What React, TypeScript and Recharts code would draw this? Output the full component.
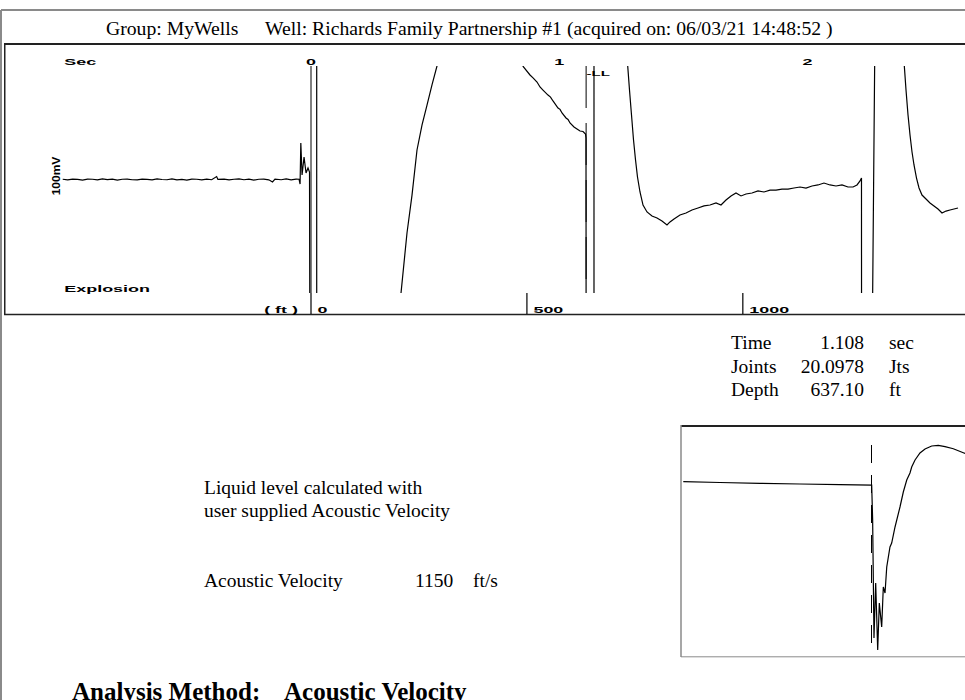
import React from 'react';
import { LineChart, Line, XAxis, YAxis, ReferenceLine } from 'recharts';

// ---------- values ----------
const ACOUSTIC_VELOCITY = 1150; // ft/s
const LIQUID_LEVEL_TIME = 1.108; // sec
const JOINTS = '20.0978';
const DEPTH = '637.10';

const timeTicks = [0, 1, 2];
const depthTicks = [0, 500, 1000];
const zeroMarkers = [0];

// time axis window (sec) and amplitude window (% of half scale)
const T_MIN = -1.2364;
const T_MAX = 2.799;
const AMP_DOMAIN: [number, number] = [-100, 100];

// [sec, amplitude]
const preShotSegment: [number, number][] = [
  [-1.0, 0.2], [-0.98, -0.3], [-0.96, 0.4], [-0.94, 0.1], [-0.92, -0.5], [-0.9, 0.3],
  [-0.88, 0.2], [-0.86, -0.4], [-0.84, 0.5], [-0.82, -0.1], [-0.8, 0.3], [-0.78, -0.6],
  [-0.76, 0.2], [-0.74, 0.4], [-0.72, -0.2], [-0.7, -0.4], [-0.68, 0.3], [-0.66, 0.1],
  [-0.64, -0.3], [-0.62, 0.5], [-0.6, 0.0], [-0.58, -0.2], [-0.56, 0.6], [-0.54, -0.3],
  [-0.52, 0.1], [-0.5, -0.5], [-0.48, 0.4], [-0.46, 0.2], [-0.44, -0.3], [-0.42, 0.3],
  [-0.4, -0.2], [-0.38, 2.6], [-0.375, 0.1], [-0.35, 0.4], [-0.33, -0.4], [-0.31, 0.2],
  [-0.29, 0.5], [-0.27, -0.2], [-0.25, 0.3], [-0.23, -0.5], [-0.21, 0.2], [-0.19, 0.4],
  [-0.17, -0.3], [-0.155, -2.2], [-0.145, 0.3], [-0.12, -0.2], [-0.1, 0.5], [-0.08, -0.4],
  [-0.06, 0.3], [-0.048, 0.2], [-0.044, -4.0], [-0.041, 32.2], [-0.036, 4.0], [-0.028, 19.8],
  [-0.02, 5.7], [-0.012, 10.1], [-0.006, 6.6], [-0.003, -300],
];
const kick0Segment: [number, number][] = [[0.023, -300], [0.023, 300]];
const riseSegment: [number, number][] = [
  [0.3504, -123.8], [0.3625, -100], [0.3866, -47.1], [0.4068, -13.7], [0.4269, 26.0],
  [0.447, 48.0], [0.4672, 65.6], [0.4873, 83.3], [0.5074, 100], [0.5195, 110.6],
];
const llApproachSegment: [number, number][] = [
  [0.8417, 105.3], [0.855, 99.4], [0.882, 92.1], [0.8942, 89.6], [0.9102, 85.9], [0.9222, 81.5],
  [0.9343, 78.8], [0.9545, 74.4], [0.9646, 72.6], [0.9746, 69.2], [0.9948, 63.0], [1.0029, 61.8],
  [1.0109, 58.6], [1.027, 54.2], [1.0351, 52.9], [1.0431, 49.8], [1.0592, 46.3], [1.0713, 44.5],
  [1.0834, 42.7], [1.0955, 42.3], [1.1055, 40.1], [1.1075, 36.6], [1.1085, -300],
];
const kickLLSegment: [number, number][] = [[1.1397, -300], [1.1397, 300]];
const decaySegment: [number, number][] = [
  [1.2706, 122.9], [1.2755, 100], [1.2827, 78.8], [1.2908, 56.8], [1.2989, 34.8], [1.307, 17.2],
  [1.3149, 2.2], [1.325, -11.0], [1.3371, -22.5], [1.3532, -28.6], [1.3733, -32.2],
  [1.3935, -33.9], [1.4136, -36.6], [1.4337, -40.1], [1.4458, -37.4], [1.462, -34.8],
  [1.4861, -31.3], [1.5103, -29.5], [1.5344, -26.9], [1.5586, -25.1], [1.5828, -23.3],
  [1.6069, -22.5], [1.6311, -20.7], [1.6512, -22.5], [1.6714, -18.1], [1.6915, -14.5],
  [1.7116, -11.9], [1.7318, -14.5], [1.7519, -12.8], [1.776, -11.9], [1.8002, -10.1],
  [1.8244, -11.0], [1.8486, -9.3], [1.8727, -9.3], [1.8969, -8.4], [1.921, -8.4],
  [1.9452, -7.5], [1.9694, -6.6], [1.9935, -7.5], [2.0177, -5.7], [2.0419, -4.8],
  [2.066, -3.1], [2.0902, -4.8], [2.1144, -5.7], [2.1385, -4.8], [2.1627, -6.6],
  [2.1828, -6.6], [2.199, -4.8], [2.2111, -1.3], [2.217, 1.3], [2.2175, -300],
];
const kick2Segment: [number, number][] = [[2.254, -300], [2.278, 300]];
const secondDecaySegment: [number, number][] = [
  [2.3842, 122.9], [2.3895, 100], [2.3963, 78.8], [2.4044, 56.8], [2.4124, 39.2],
  [2.4205, 24.2], [2.4285, 12.8], [2.4386, 1.3], [2.4487, -7.5], [2.4607, -13.7],
  [2.4768, -17.2], [2.4929, -20.7], [2.509, -23.3], [2.5252, -26.0], [2.5413, -29.5],
  [2.5574, -27.8], [2.5735, -26.9], [2.5896, -26.0], [2.6057, -25.1],
];

// inset: liquid level window
const INSET_T: [number, number] = [0.908, 1.308];
const INSET_AMP: [number, number] = [-115, 115];
const insetSegment: [number, number][] = [
  [0.9104, 60.3], [0.9489, 59.5], [0.9909, 58.7], [1.0329, 58.0], [1.0749, 57.3],
  [1.1082, 56.8], [1.1092, 22], [1.1106, -96], [1.1124, -41], [1.1145, -108],
  [1.1162, -61], [1.1187, -85], [1.1204, -45], [1.1222, -51], [1.124, -25], [1.1274, -5],
  [1.1292, -1], [1.1327, 15], [1.1379, 35], [1.1414, 50], [1.145, 62], [1.1484, 69],
  [1.1502, 75], [1.1537, 82], [1.1589, 89], [1.1642, 93], [1.1712, 96], [1.1781, 96.7],
  [1.1852, 95.3], [1.1939, 93.3], [1.2044, 89.3], [1.2167, 84],
];
const insetMarkerSpan: [number, number] = [97, -108];

// ---------- build tables ----------
type Pt = { t: number; v: number | null };
const segments = [
  preShotSegment, kick0Segment, riseSegment, llApproachSegment,
  kickLLSegment, decaySegment, kick2Segment, secondDecaySegment,
];
const mainData: Pt[] = [];
segments.forEach((seg, i) => {
  if (i > 0) mainData.push({ t: seg[0][0], v: null });
  seg.forEach(([t, v]) => mainData.push({ t, v }));
});
const insetData: Pt[] = insetSegment.map(([t, v]) => ({ t, v }));
// depth = velocity * time / 2 (two-way travel)
const FT_PER_SEC = ACOUSTIC_VELOCITY / 2;
const depthTickTimes = depthTicks.map((d) => d / FT_PER_SEC);

// ---------- helpers ----------
const SANS = "'Liberation Sans', Arial, sans-serif";
const SERIF = "'Liberation Serif', 'Times New Roman', serif";

const Wide = ({ x, y, children, anchor = 'middle', size = 9.8, sx = 1.83 }: any) => (
  <g transform={`translate(${x},${y}) scale(${sx},1)`}>
    <text x={0} y={0} textAnchor={anchor} fontFamily={SANS} fontWeight={700} fontSize={size} fill="#000">
      {children}
    </text>
  </g>
);

const SecTick = (props: any) => {
  const { x, y, payload } = props;
  return <Wide x={x} y={y - 1}>{String(payload.value)}</Wide>;
};

const FtTick = (props: any) => {
  const { x, y, payload } = props;
  const ft = Math.round(payload.value * FT_PER_SEC);
  return (
    <g>
      <line x1={x} x2={x} y1={y} y2={y + 21} stroke="#000" strokeWidth={1.2} />
      <Wide x={x + 6.5} y={y + 20} anchor="start">{String(ft)}</Wide>
    </g>
  );
};

const LLLabel = (props: any) => {
  const vb = props.viewBox || {};
  return <Wide x={vb.x + 0.5} y={vb.y + 9.5} anchor="start" size={7.5} sx={2}>-LL</Wide>;
};

const txt = (x: number, y: number, s: string, extra: any = {}) => (
  <text x={x} y={y} fontFamily={SERIF} fontSize={19.5} fill="#000" {...extra}>{s}</text>
);

export default function App() {
  return (
    <div style={{ position: 'absolute', left: 0, top: 0, width: 965, height: 700, overflow: 'hidden', background: '#fff' }}>
      <svg width={965} height={700} style={{ position: 'absolute', left: 0, top: 0 }}>
        {/* page frame */}
        <line x1={1} y1={10} x2={965} y2={10} stroke="#8a8a8a" strokeWidth={2} />
        <line x1={1} y1={10} x2={1} y2={700} stroke="#8a8a8a" strokeWidth={2} />
        {/* title */}
        {txt(106, 34.5, 'Group: MyWells', { fontSize: 19.7 })}
        {txt(265, 34.5, 'Well: Richards Family Partnership #1 (acquired on: 06/03/21 14:48:52 )', { fontSize: 19.7 })}
        {/* main box */}
        <line x1={4} y1={44} x2={965} y2={44} stroke="#222" strokeWidth={2} />
        <line x1={4.75} y1={43} x2={4.75} y2={315} stroke="#222" strokeWidth={1.5} />
        <line x1={4} y1={314.5} x2={965} y2={314.5} stroke="#222" strokeWidth={1.5} />
        {/* axis annotations */}
        <Wide x={64.3} y={65} anchor="start">Sec</Wide>
        <Wide x={64.3} y={292} anchor="start">Explosion</Wide>
        <Wide x={298} y={313} anchor="end">( ft )</Wide>
        <g transform="translate(59.5,176) rotate(-90)">
          <Wide x={0} y={0} size={10} sx={1.2}>100mV</Wide>
        </g>
        {/* results block */}
        {txt(731, 349, 'Time')}
        {txt(864, 349, String(LIQUID_LEVEL_TIME), { textAnchor: 'end' })}
        {txt(889, 349, 'sec')}
        {txt(731, 372.5, 'Joints')}
        {txt(864, 372.5, JOINTS, { textAnchor: 'end' })}
        {txt(889, 372.5, 'Jts')}
        {txt(731, 396, 'Depth')}
        {txt(864, 396, DEPTH, { textAnchor: 'end' })}
        {txt(889, 396, 'ft')}
        {/* notes */}
        {txt(204, 493.5, 'Liquid level calculated with')}
        {txt(204, 516.5, 'user supplied Acoustic Velocity')}
        {txt(204, 586.5, 'Acoustic Velocity')}
        {txt(415, 586.5, String(ACOUSTIC_VELOCITY))}
        {txt(473, 586.5, 'ft/s')}
        {txt(72, 699.5, 'Analysis Method:', { fontSize: 25, fontWeight: 700 })}
        {txt(284, 699.5, 'Acoustic Velocity', { fontSize: 25, fontWeight: 700 })}
        {/* inset box */}
        <line x1={681} y1={426} x2={965} y2={426} stroke="#222" strokeWidth={2} />
        <line x1={681} y1={425} x2={681} y2={657} stroke="#8a8a8a" strokeWidth={1.5} />
        <line x1={681} y1={656.8} x2={965} y2={656.8} stroke="#8a8a8a" strokeWidth={1} />
      </svg>

      <div style={{ position: 'absolute', left: 4, top: 43 }}>
        <LineChart width={1002} height={272} data={mainData} margin={{ top: 0, right: 0, bottom: 0, left: 0 }}>
          <XAxis
            xAxisId="t" dataKey="t" type="number" orientation="top" domain={[T_MIN, T_MAX]}
            ticks={timeTicks} interval={0} allowDataOverflow axisLine={false} tickLine={false}
            tickSize={0} tickMargin={0} height={23} tick={SecTick}
          />
          <XAxis
            xAxisId="d" dataKey="t" type="number" orientation="bottom" domain={[T_MIN, T_MAX]}
            ticks={depthTickTimes} interval={0} allowDataOverflow axisLine={false} tickLine={false}
            tickSize={0} tickMargin={0} height={22} tick={FtTick}
          />
          <YAxis yAxisId="a" type="number" domain={AMP_DOMAIN} allowDataOverflow hide />
          {zeroMarkers.map((m) => (
            <ReferenceLine key={m} xAxisId="t" yAxisId="a" x={m} stroke="#000" strokeWidth={1} />
          ))}
          <ReferenceLine
            xAxisId="t" yAxisId="a" x={LIQUID_LEVEL_TIME} stroke="#000" strokeWidth={1}
            strokeDasharray="42 15" label={LLLabel}
          />
          <Line
            xAxisId="t" yAxisId="a" dataKey="v" type="linear" stroke="#000" strokeWidth={1.2}
            dot={false} activeDot={false} connectNulls={false} isAnimationActive={false}
          />
        </LineChart>
      </div>

      <div style={{ position: 'absolute', left: 681, top: 427 }}>
        <LineChart width={381} height={230} data={insetData} margin={{ top: 0, right: 0, bottom: 0, left: 0 }}>
          <XAxis xAxisId="i" dataKey="t" type="number" domain={INSET_T} allowDataOverflow hide />
          <YAxis yAxisId="i" type="number" domain={INSET_AMP} allowDataOverflow hide />
          <ReferenceLine
            xAxisId="i" yAxisId="i"
            segment={[{ x: LIQUID_LEVEL_TIME, y: insetMarkerSpan[0] }, { x: LIQUID_LEVEL_TIME, y: insetMarkerSpan[1] }]}
            stroke="#000" strokeWidth={1} strokeDasharray="18 12"
          />
          <Line
            xAxisId="i" yAxisId="i" dataKey="v" type="linear" stroke="#000" strokeWidth={1.2}
            dot={false} activeDot={false} isAnimationActive={false}
          />
        </LineChart>
      </div>
    </div>
  );
}
